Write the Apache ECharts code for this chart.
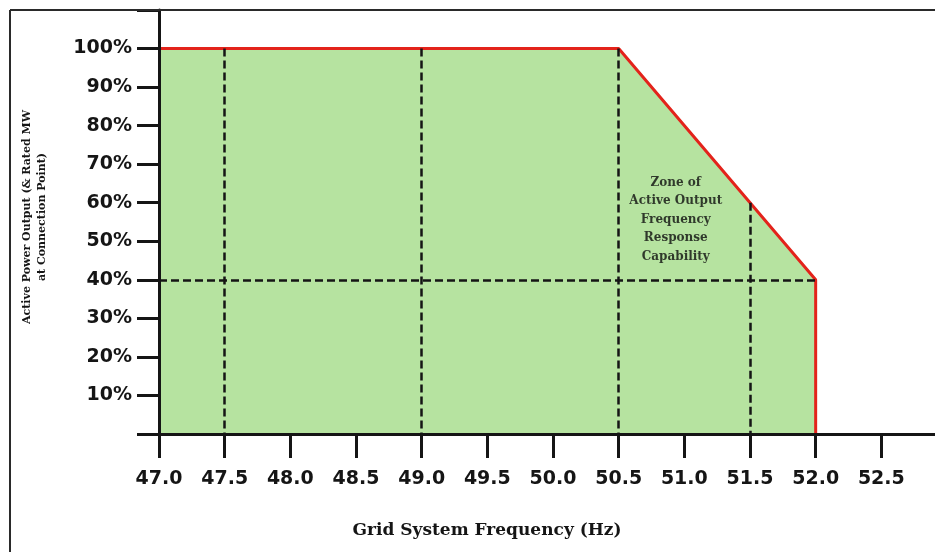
<!DOCTYPE html>
<html>
<head>
<meta charset="utf-8">
<script src="https://cdn.jsdelivr.net/npm/echarts@6/dist/echarts.min.js"></script>
<style>html,body{margin:0;padding:0;background:#fff}#c{width:935px;height:552px}</style>
</head>
<body>
<div id="c"></div>
<script>
// Envelope of the zone (frequency in Hz, active power in %)
const envFreq  = [47.0, 50.5, 52.0, 52.0];
const envPower = [100, 100, 40, 0];
// Dashed guide lines
const guideFreq = [47.5, 49.0, 50.5, 51.5];
const guideTop  = [100, 100, 100, 60];
const guideLevel = 40;            // horizontal dashed level (%)
const guideLevelFrom = 47.0, guideLevelTo = 52.0;
// Zone label
const zoneLabel = ['Zone of', 'Active Output', 'Frequency', 'Response', 'Capability'];
const zoneLabelAt = [50.935, 55.6];
// Axes
const xMin = 47.0, xMax = 53.0, xStep = 0.5;
const yMin = 0, yMax = 110, yStep = 10;
const xTitle = 'Grid System Frequency (Hz)';
const yTitle = ['Active Power Output (& Rated MW', 'at Connection Point)'];

const envData = envFreq.map((f, i) => [f, envPower[i]]);
const guideLines = guideFreq.map((f, i) => [{coord: [f, guideTop[i]]}, {coord: [f, 0]}]);
guideLines.push([{coord: [guideLevelFrom, guideLevel]}, {coord: [guideLevelTo, guideLevel]}]);

const chart = echarts.init(document.getElementById('c'), null, {renderer: 'canvas'});
const ink = '#151515';
chart.setOption({
  animation: false,
  backgroundColor: '#ffffff',
  grid: {left: 159, right: -12, top: 10, bottom: 118, containLabel: false, outerBoundsMode: 'none'},
  xAxis: {
    type: 'value', min: xMin, max: xMax, interval: xStep, z: 5,
    axisLine: {show: true, lineStyle: {color: ink, width: 3}},
    axisTick: {show: true, length: 24, lineStyle: {color: ink, width: 3}},
    splitLine: {show: false},
    axisLabel: {
      margin: 36, color: ink, fontFamily: 'DejaVu Sans', fontWeight: 'bold', fontSize: 19,
      showMaxLabel: false,
      formatter: v => (v >= xMax ? '' : v.toFixed(1))
    }
  },
  yAxis: {
    type: 'value', min: yMin, max: yMax, interval: yStep, z: 5,
    axisLine: {show: true, lineStyle: {color: ink, width: 3}},
    axisTick: {show: true, length: 22, lineStyle: {color: ink, width: 3}},
    splitLine: {show: false},
    axisLabel: {
      margin: 27, color: ink, fontFamily: 'DejaVu Sans', fontWeight: 'bold', fontSize: 19,
      formatter: v => (v <= 0 || v > 100 ? '' : v + '%')
    }
  },
  series: [
    {
      type: 'line', data: envData, symbol: 'none', z: 1, silent: true,
      lineStyle: {width: 0, opacity: 0},
      areaStyle: {color: '#b6e3a0', opacity: 1}
    },
    {
      type: 'line', data: [], z: 2, silent: true,
      markLine: {
        silent: true, symbol: ['none', 'none'], label: {show: false},
        lineStyle: {color: ink, width: 2.5, type: [8, 4]},
        data: guideLines
      }
    },
    {
      type: 'line', data: envData, symbol: 'none', z: 3, silent: true,
      lineStyle: {color: '#e3231b', width: 3}
    },
    {
      type: 'scatter', data: [zoneLabelAt], symbolSize: 0, z: 4, silent: true,
      label: {
        show: true, position: 'inside', formatter: zoneLabel.join('\n'),
        color: '#0e0e0e', fontFamily: 'DejaVu Serif', fontWeight: 'bold', fontSize: 12,
        lineHeight: 18.5, align: 'center', verticalAlign: 'middle'
      }
    }
  ],
  graphic: [
    {type: 'line', z: 10, shape: {x1: 10, y1: 10, x2: 935, y2: 10}, style: {stroke: '#2a2a2a', lineWidth: 2}},
    {type: 'line', z: 10, shape: {x1: 10, y1: 10, x2: 10, y2: 552}, style: {stroke: '#2a2a2a', lineWidth: 2}},
    {
      type: 'text', z: 10, x: 487, y: 531,
      style: {text: xTitle, fill: ink, font: 'bold 17px "DejaVu Serif"', textAlign: 'center', textVerticalAlign: 'middle'}
    },
    {
      type: 'text', z: 10, x: 35, y: 217, rotation: Math.PI / 2,
      style: {text: yTitle.join('\n'), fill: ink, font: 'bold 11px "DejaVu Serif"', lineHeight: 15, textAlign: 'center', textVerticalAlign: 'middle'}
    }
  ]
});
</script>
</body>
</html>
